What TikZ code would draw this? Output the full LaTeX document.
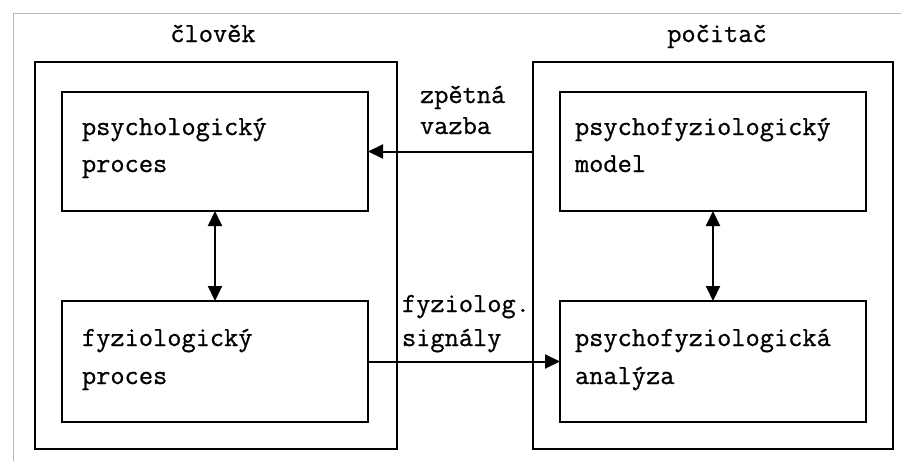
\documentclass[tikz,border=0pt]{standalone}
\usepackage{fontspec}
\newfontfamily\cour{Latin Modern Mono}[FakeBold=0.8]
\usetikzlibrary{arrows.meta}
\begin{document}
\begin{tikzpicture}[x=1pt,y=-1pt,
  every node/.style={font=\cour\fontsize{27.6}{30}\selectfont, inner sep=0pt, outer sep=0pt},
  box/.style={draw, line width=2pt, rectangle},
  lbl/.style={anchor=base west},
  hd/.style={anchor=base},
  tip/.tip={Triangle[length=15pt,width=14pt]},
  arr/.style={line width=2pt, -tip},
  darr/.style={line width=2pt, tip-tip}]
\useasboundingbox (0,0) rectangle (901,461);
\draw[gray!55, line width=1pt] (13,461) -- (13,13) -- (901,13);
% big boxes
\node[box, minimum width=362pt, minimum height=387pt] (L) at (216,255.5) {};
\node[box, minimum width=360pt, minimum height=387pt] (R) at (713,255.5) {};
% inner boxes
\node[box, minimum width=306pt, minimum height=119pt] (pp) at (215,151.5) {};
\node[box, minimum width=306pt, minimum height=121pt] (fp) at (215,361.5) {};
\node[box, minimum width=306pt, minimum height=119pt] (pm) at (713,151.5) {};
\node[box, minimum width=306pt, minimum height=121pt] (pa) at (713,361.5) {};
% headings
\node[hd] (hL) at (213,42) {člověk};
\node[hd] (hR) at (717,42) {počitač};
% box texts
\node[lbl] (pp1) at (82,135) {psychologický};
\node[lbl] (pp2) at (82,172) {proces};
\node[lbl] (fp1) at (82,346) {fyziologický};
\node[lbl] (fp2) at (82,384) {proces};
\node[lbl] (pm1) at (575,135) {psychofyziologický};
\node[lbl] (pm2) at (575,172) {model};
\node[lbl] (pa1) at (575,346) {psychofyziologická};
\node[lbl] (pa2) at (575,384) {analýza};
% arrow labels
\node[lbl] (z1) at (420,103) {zpětná};
\node[lbl] (z2) at (420,134) {vazba};
\node[lbl] (s1) at (402,312) {fyziolog.};
\node[lbl] (s2) at (402,346) {signály};
% connectors
\draw[darr] (pp.south) -- (fp.north);
\draw[darr] (pm.south) -- (pa.north);
\draw[arr] (R.west |- pp.east) -- (pp.east);
\draw[arr] (fp.east) -- (pa.west);
\end{tikzpicture}
\end{document}
